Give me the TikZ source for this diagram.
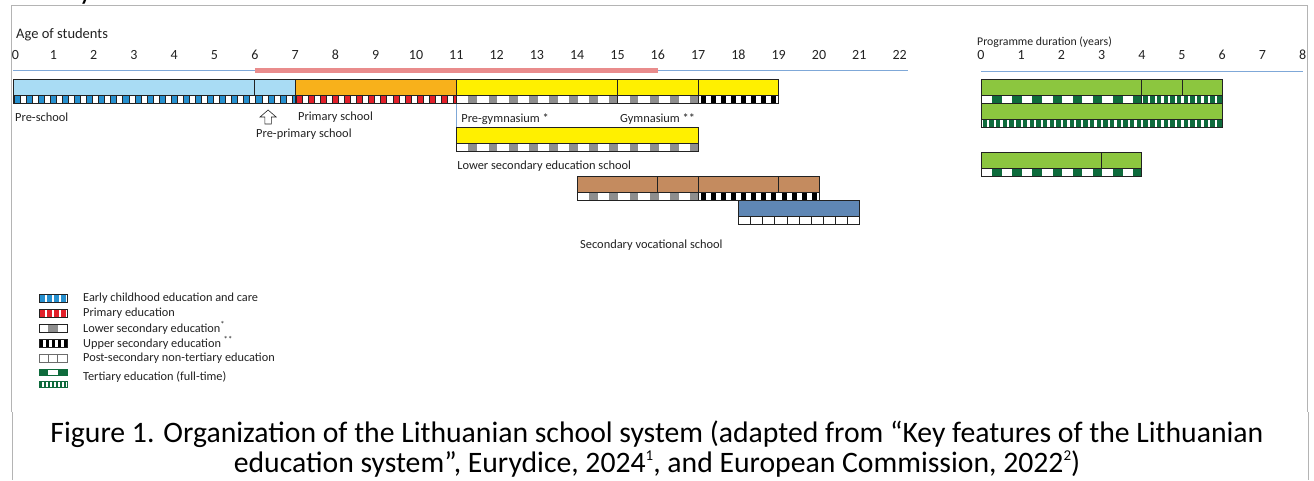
\documentclass[tikz,border=0pt]{standalone}
\usepackage{fontspec}
\setmainfont{Carlito}
\definecolor{framegray}{HTML}{B4B4B4}
\definecolor{axisblue}{HTML}{7FA8D8}
\definecolor{axisred}{HTML}{E98C8C}
\definecolor{ecfill}{HTML}{A9DCF4}
\definecolor{ecblue}{HTML}{2690CF}
\definecolor{primfill}{HTML}{F8B11B}
\definecolor{primred}{HTML}{E2202A}
\definecolor{secyellow}{HTML}{FFF000}
\definecolor{lowgray}{HTML}{8E8E8E}
\definecolor{vocbrown}{HTML}{C48B5F}
\definecolor{postblue}{HTML}{5F87B5}
\definecolor{tergreen}{HTML}{8CC63F}
\definecolor{terdark}{HTML}{0E6B3C}
\definecolor{ink}{HTML}{222222}

% repeated blocks inside a strip: x0, x1, ytop, ybot, period, offset, width, style
\newcommand\blocks[8]{%
  \begin{scope}
    \clip (#1,#3) rectangle (#2,#4);
    \pgfmathtruncatemacro\nblk{((#2)-(#1))/(#5)+1}
    \foreach \k in {0,...,\nblk}{%
      \path[#8] ({#1+#6+\k*#5},#3) rectangle ({#1+#6+\k*#5+#7},#4);}
  \end{scope}}
% small raised note number in the caption
\newcommand\capnote[1]{\raisebox{0.42em}{\fontsize{15}{15}\selectfont #1}}

\tikzset{
  bar/.style={draw=ink, line width=0.7pt},
  thinbar/.style={draw=ink, line width=0.45pt},
  lbl/.style={anchor=west, inner sep=0pt, text=ink, font=\fontsize{12.4}{14}\selectfont},
  ticklbl/.style={inner sep=0pt, text=ink, font=\fontsize{14}{16}\selectfont},
  legtxt/.style={anchor=west, inner sep=0pt, text=ink, font=\fontsize{12.3}{14}\selectfont},
  captxt/.style={inner sep=0pt, text=black, font=\fontsize{29.7}{34}\selectfont},
}

\begin{document}
\begin{tikzpicture}[x=1pt, y=-1pt]
\useasboundingbox (0,0) rectangle (1314,480);
\fill[white] (0,0) rectangle (1314,480);

% heading fragment above the frame
\begin{scope}
  \clip (0,0) rectangle (1314,6);
  \node[anchor=base west, inner sep=0pt, text=black, font=\fontsize{29.7}{34}\selectfont] (headfrag) at (79,-1) {y};
\end{scope}

% outer frame of the figure and its caption
\draw[framegray, line width=1pt] (11,412) -- (11,5) -- (1307,5) -- (1307,412);
\draw[framegray, line width=1pt] (12,412) -- (12,480);
\draw[framegray, line width=1pt] (1308,412) -- (1308,480);

% ---------------- age chart ----------------
\node[lbl, font=\fontsize{14.5}{16}\selectfont] (agetitle) at (16,35) {Age of students};
\begin{scope}[xshift=13pt, x=40.3pt, y=-1pt]
  % axis
  \draw[axisblue, line width=0.9pt] (0,70) -- (22.2,70);
  \draw[axisred, line width=5pt] (6,70) -- (16,70);
  \node[ticklbl, anchor=west] (age0) at (-0.03,55) {0};
  \foreach \a in {1,...,22} \node[ticklbl] (age\a) at (\a,55) {\a};

  % separator between primary and pre-gymnasium
  \draw[axisblue, line width=0.8pt] (11,79) -- (11,127);

  % row 1: general education track
  \draw[bar, fill=ecfill] (0,79) rectangle (6,95);
  \draw[bar, fill=ecfill] (6,79) rectangle (7,95);
  \draw[bar, fill=primfill] (7,79) rectangle (11,95);
  \draw[bar, fill=secyellow] (11,79) rectangle (15,95);
  \draw[bar, fill=secyellow] (15,79) rectangle (17,95);
  \draw[bar, fill=secyellow] (17,79) rectangle (19,95);
  \blocks{0}{7}{95}{103}{0.3}{0.02}{0.15}{fill=ecblue, draw=ink, line width=0.25pt}
  \blocks{7}{11}{95}{103}{0.3}{0.02}{0.15}{fill=primred, draw=ink, line width=0.25pt}
  \blocks{11}{17}{95}{103}{0.5}{0.3}{0.22}{fill=lowgray}
  \blocks{17}{19}{95}{103}{0.25}{0.07}{0.125}{fill=black}
  \draw[bar] (0,95) rectangle (7,103);
  \draw[bar] (7,95) rectangle (11,103);
  \draw[bar] (11,95) rectangle (15,103);
  \draw[bar] (15,95) rectangle (17,103);
  \draw[bar] (17,95) rectangle (19,103);

  % labels under row 1
  \node[lbl] (preschool) at (0.05,117) {Pre-school};
  \draw[ink, line width=0.6pt, fill=white]
    (6.33,110) -- (6.53,117) -- (6.41,117) -- (6.41,124) -- (6.25,124) -- (6.25,117) -- (6.13,117) -- cycle;
  \node[lbl] (primary) at (7.07,117) {Primary school};
  \node[lbl] (preprimary) at (6.03,134) {Pre-primary school};
  \node[lbl] (pregym) at (11.12,119) {Pre-gymnasium *};
  \node[lbl] (gym) at (15.06,119) {Gymnasium **};

  % row 2: lower secondary education school
  \draw[bar, fill=secyellow] (11,127) rectangle (17,143);
  \blocks{11}{17}{143}{151}{0.5}{0.3}{0.22}{fill=lowgray}
  \draw[bar] (11,143) rectangle (17,151);
  \node[lbl] (lowerschool) at (11.02,166) {Lower secondary education school};

  % row 3: secondary vocational school
  \draw[bar, fill=vocbrown] (14,176) rectangle (16,192);
  \draw[bar, fill=vocbrown] (16,176) rectangle (17,192);
  \draw[bar, fill=vocbrown] (17,176) rectangle (19,192);
  \draw[bar, fill=vocbrown] (19,176) rectangle (20,192);
  \blocks{14}{17}{192}{200}{0.5}{0.3}{0.22}{fill=lowgray}
  \blocks{17}{20}{192}{200}{0.25}{0.07}{0.125}{fill=black}
  \draw[bar] (14,192) rectangle (17,200);
  \draw[bar] (17,192) rectangle (20,200);

  % row 4: post-secondary non-tertiary
  \draw[bar, fill=postblue] (18,200) rectangle (21,216);
  \foreach \k in {0,...,9}
    \draw[thinbar, fill=white] ({18+\k*0.3},216) rectangle ({18.3+\k*0.3},224);
  \draw[bar] (18,216) rectangle (21,224);
  \node[lbl] (vocschool) at (14.07,245) {Secondary vocational school};
\end{scope}

% ---------------- programme duration chart ----------------
\node[lbl, font=\fontsize{11.8}{14}\selectfont] (durtitle) at (977,42) {Programme duration (years)};
\begin{scope}[xshift=981pt, x=40.2pt, y=-1pt]
  \draw[axisblue, line width=0.9pt] (0,71) -- (8,71);
  \foreach \d in {0,...,8} \node[ticklbl] (dur\d) at (\d,55) {\d};

  % bar A
  \draw[bar, fill=tergreen] (0,79) rectangle (4,95);
  \draw[bar, fill=tergreen] (4,79) rectangle (5,95);
  \draw[bar, fill=tergreen] (5,79) rectangle (6,95);
  \blocks{0}{4}{95}{103}{0.5}{0.28}{0.24}{fill=terdark}
  \blocks{4}{6}{95}{103}{0.1667}{0.04}{0.11}{fill=terdark}
  \draw[bar] (0,95) rectangle (4,103);
  \draw[bar] (4,95) rectangle (6,103);

  % bar B
  \draw[bar, fill=tergreen] (0,103) rectangle (6,119);
  \blocks{0}{6}{119}{127}{0.1667}{0.04}{0.11}{fill=terdark}
  \draw[bar] (0,119) rectangle (6,127);

  % bar C
  \draw[bar, fill=tergreen] (0,152) rectangle (3,168);
  \draw[bar, fill=tergreen] (3,152) rectangle (4,168);
  \blocks{0}{4}{168}{176}{0.5}{0.28}{0.24}{fill=terdark}
  \draw[bar] (0,168) rectangle (4,176);
\end{scope}

% ---------------- legend ----------------
% early childhood
\blocks{39}{67}{294}{302}{7}{1}{4.5}{fill=ecblue}
\draw[bar] (39,294) rectangle (67,302);
\node[legtxt] (lg1) at (83,298) {Early childhood education and care};
% primary
\blocks{39}{67}{309}{317}{7}{1}{4.5}{fill=primred}
\draw[bar, line width=1pt] (39,309) rectangle (67,317);
\node[legtxt] (lg2) at (83,313) {Primary education};
% lower secondary
\fill[lowgray] (48,324) rectangle (58,332);
\draw[bar, line width=1pt] (39,324) rectangle (67,332);
\node[legtxt] (lg3) at (83,328) {Lower secondary education\textsuperscript{*}};
% upper secondary
\blocks{39}{67}{339}{347}{6}{1}{3}{fill=black}
\draw[bar] (39,339) rectangle (67,347);
\node[legtxt] (lg4) at (83,343) {Upper secondary education \textsuperscript{**}};
% post-secondary non-tertiary
\foreach \k in {0,1,2} \draw[framegray!60!black, line width=0.6pt] ({39+\k*9.33},354) rectangle ({48.33+\k*9.33},362);
\node[legtxt] (lg5) at (83,358) {Post-secondary non-tertiary education};
% tertiary
\fill[terdark] (39,369) rectangle (48,375);
\fill[terdark] (58,369) rectangle (67,375);
\draw[terdark, line width=0.6pt] (39,369) rectangle (67,375);
\blocks{39}{67}{381}{387}{4}{0.5}{2.8}{fill=terdark}
\draw[terdark, line width=0.6pt] (39,381) rectangle (67,387);
\node[legtxt] (lg6) at (83,377) {Tertiary education (full-time)};

% ---------------- caption ----------------
\node[captxt] (cap1) at (657,434) {Figure 1. Organization of the Lithuanian school system (adapted from “Key features of the Lithuanian};
\node[captxt] (cap2) at (657,464) {education system”, Eurydice, 2024\capnote{1}, and European Commission, 2022\capnote{2})};
\end{tikzpicture}
\end{document}
